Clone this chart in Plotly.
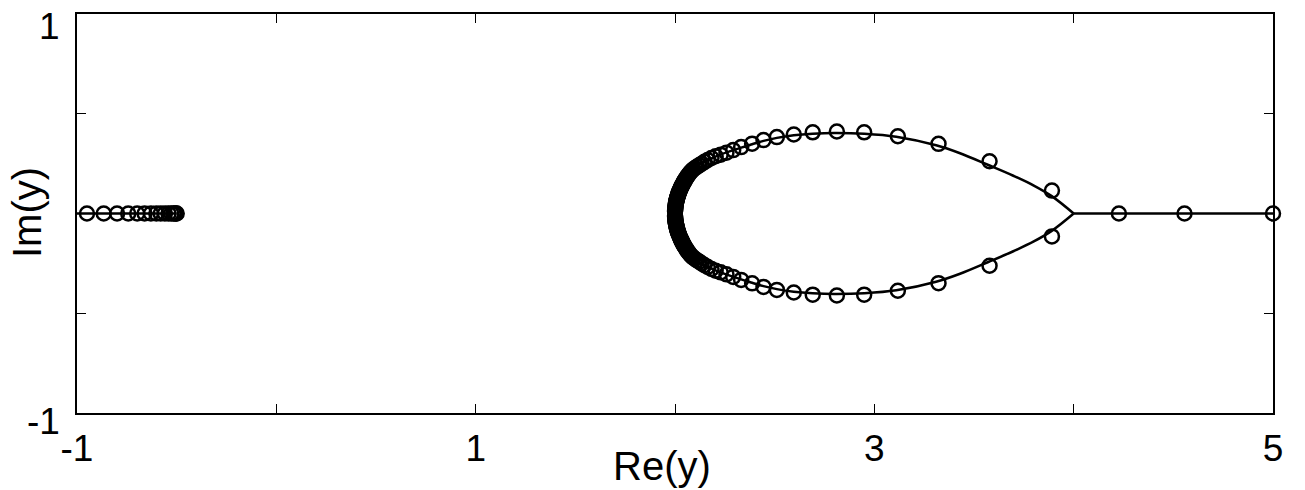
import plotly.graph_objects as go

# ---- data ----
# solid curve, upper branch (from cusp at 4 back to vertex at 2)
curve_up_x = [4.0, 3.89, 3.8, 3.7, 3.572, 3.43, 3.31, 3.11, 2.95, 2.8, 2.69, 2.596, 2.511,
              2.444, 2.387, 2.332, 2.2, 2.084, 2.026, 2.005, 2.0]
curve_up_y = [0.0, 0.087, 0.14, 0.188, 0.243, 0.302, 0.342, 0.385, 0.400, 0.404, 0.400, 0.392,
              0.379, 0.364, 0.347, 0.330, 0.284, 0.218, 0.120, 0.054, 0.0]
# lower branch (from vertex at 2 back to cusp at 4)
curve_lo_x = [2.0, 2.005, 2.026, 2.084, 2.2, 2.332, 2.387, 2.444, 2.511, 2.596, 2.69, 2.8,
              2.95, 3.11, 3.31, 3.43, 3.572, 3.7, 3.8, 3.89, 4.0]
curve_lo_y = [0.0, -0.054, -0.120, -0.218, -0.284, -0.330, -0.347, -0.364, -0.379, -0.392,
              -0.400, -0.404, -0.400, -0.385, -0.342, -0.302, -0.243, -0.188, -0.14, -0.087, 0.0]
# real-axis line segments
right_line_x = [4.0, 5.0]
right_line_y = [0.0, 0.0]
left_line_x = [-1.0, -0.5]
left_line_y = [0.0, 0.0]

# circle markers on the real axis (left cluster)
left_pts_x = [-0.95, -0.866, -0.799, -0.743, -0.698, -0.661, -0.629, -0.602, -0.58,
              -0.559, -0.541, -0.527, -0.516, -0.508, -0.503, -0.5]
left_pts_y = [0.0] * 16
# circle markers on the real axis (right)
right_pts_x = [4.227, 4.556, 5.0]
right_pts_y = [0.0, 0.0, 0.0]
# circle markers on the loop, upper half
loop_pts_x = [3.891, 3.578, 3.322, 3.118, 2.949, 2.812, 2.691, 2.596, 2.511, 2.444, 2.387,
              2.332, 2.292, 2.258, 2.229, 2.204, 2.183, 2.164, 2.148, 2.134, 2.122, 2.111,
              2.101, 2.092, 2.085, 2.078, 2.072, 2.066, 2.061, 2.057, 2.053, 2.049, 2.046,
              2.043, 2.040, 2.037, 2.035, 2.033, 2.031, 2.029, 2.027, 2.025, 2.023, 2.021,
              2.019, 2.0175, 2.016, 2.0145, 2.013, 2.012, 2.011, 2.010, 2.009, 2.008, 2.007,
              2.006, 2.005, 2.004, 2.003, 2.0024, 2.0018, 2.0013, 2.0009, 2.0005, 2.0002]
loop_pts_y = [0.115, 0.262, 0.349, 0.387, 0.407, 0.411, 0.407, 0.396, 0.383, 0.368, 0.350,
              0.333, 0.318, 0.305, 0.295, 0.287, 0.278, 0.268, 0.259, 0.250, 0.242, 0.235,
              0.228, 0.222, 0.215, 0.208, 0.200, 0.192, 0.185, 0.179, 0.172, 0.166, 0.161,
              0.156, 0.150, 0.144, 0.140, 0.136, 0.132, 0.128, 0.123, 0.118, 0.114, 0.109,
              0.103, 0.099, 0.095, 0.090, 0.086, 0.082, 0.079, 0.075, 0.071, 0.067, 0.063,
              0.058, 0.053, 0.047, 0.041, 0.036, 0.031, 0.026, 0.021, 0.016, 0.011]
# lower half (conjugate points)
loop_lo_pts_x = loop_pts_x
loop_lo_pts_y = [-v for v in loop_pts_y]

x_tickvals = [-1, 0, 1, 2, 3, 4, 5]
x_ticktext = ["-1", "", "1", "", "3", "", "5"]
y_tickvals = [-1, -0.5, 0, 0.5, 1]
y_ticklabels = {1: "1", -1: "-1"}

FONT = "Arial, Liberation Sans, Helvetica, sans-serif"
FS = 37
FS_LABEL = 40
W, H = 1305, 490
L, R, T, B = 77, 32, 14, 77
PW, PH = W - L - R, H - T - B

line_style = dict(color="black", width=2.5)
marker_style = dict(symbol="circle-open", size=14, color="black",
                    line=dict(color="black", width=2.5))

fig = go.Figure()
for xs, ys in [(curve_up_x, curve_up_y), (curve_lo_x, curve_lo_y),
               (right_line_x, right_line_y), (left_line_x, left_line_y)]:
    fig.add_trace(go.Scatter(x=xs, y=ys, mode="lines", line=line_style,
                             line_shape="spline", hoverinfo="skip", showlegend=False))
for xs, ys in [(left_pts_x, left_pts_y), (right_pts_x, right_pts_y),
               (loop_pts_x, loop_pts_y), (loop_lo_pts_x, loop_lo_pts_y)]:
    fig.add_trace(go.Scatter(x=xs, y=ys, mode="markers", marker=marker_style,
                             cliponaxis=False, showlegend=False))

fig.update_layout(
    width=W, height=H,
    margin=dict(l=L, r=R, t=T, b=B),
    paper_bgcolor="white", plot_bgcolor="white",
    font=dict(family=FONT, color="black", size=FS),
    showlegend=False,
)
fig.update_xaxes(range=[-1, 5], tickvals=x_tickvals, ticktext=x_ticktext,
                 ticks="inside", ticklen=9, tickwidth=1, tickcolor="black",
                 showline=True, linecolor="black", linewidth=2, mirror="ticks",
                 showgrid=False, zeroline=False, ticklabelstandoff=2,
                 tickfont=dict(size=FS, family=FONT))
fig.update_yaxes(range=[-1, 1], tickvals=y_tickvals, showticklabels=False,
                 ticks="inside", ticklen=9, tickwidth=1, tickcolor="black",
                 showline=True, linecolor="black", linewidth=2, mirror="ticks",
                 showgrid=False, zeroline=False)

# y tick labels placed as MATLAB does (kept inside the figure)
for val, txt in y_ticklabels.items():
    ypx = 26 if val == 1 else 421
    fig.add_annotation(text=txt, xref="paper", yref="paper",
                       x=(62 - L) / PW, y=(H - B - ypx) / PH,
                       xanchor="right", yanchor="middle", showarrow=False,
                       font=dict(size=FS, family=FONT, color="black"))

fig.add_annotation(text="Re(y)", xref="paper", yref="paper",
                   x=(662 - L) / PW, y=(H - B - 466) / PH,
                   xanchor="center", yanchor="middle", showarrow=False,
                   font=dict(size=FS_LABEL, family=FONT, color="black"))
fig.add_annotation(text="Im(y)", xref="paper", yref="paper",
                   x=(27 - L) / PW, y=(H - B - 213) / PH, textangle=-90,
                   xanchor="center", yanchor="middle", showarrow=False,
                   font=dict(size=FS_LABEL, family=FONT, color="black"))

fig.write_html("out.html", config={"displayModeBar": False},
               post_script="document.body.style.margin='0px';")
